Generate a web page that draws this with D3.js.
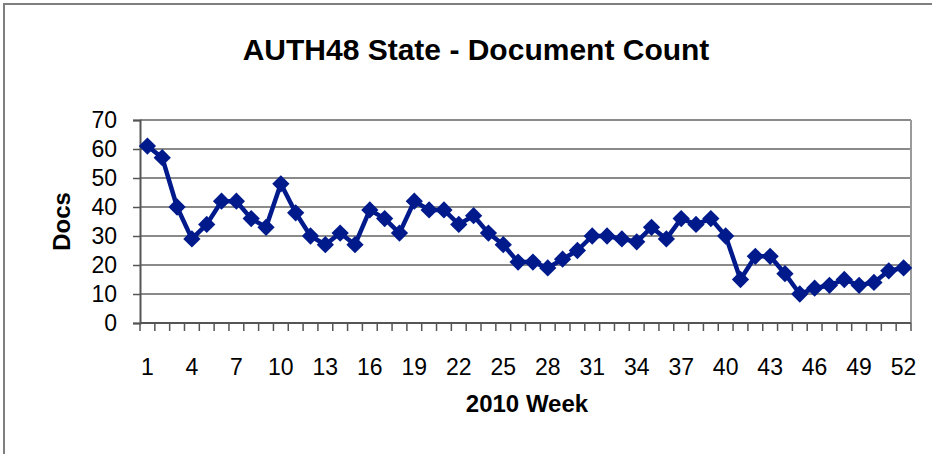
<!DOCTYPE html>
<html>
<head>
<meta charset="utf-8">
<script src="https://cdn.jsdelivr.net/npm/d3@7"></script>
<style>
  body { margin: 0; background: #fff; }
  text { font-family: "Liberation Sans", Arial, sans-serif; fill: #000; }
</style>
</head>
<body>
<svg id="chart" width="932" height="454"></svg>
<script>
// weeks of 2010 and the AUTH48 document count for each
var weeks = d3.range(1, 53);
var docs = [61, 57, 40, 29, 34, 42, 42, 36, 33, 48,
            38, 30, 27, 31, 27, 39, 36, 31, 42, 39,
            39, 34, 37, 31, 27, 21, 21, 19, 22, 25,
            30, 30, 29, 28, 33, 29, 36, 34, 36, 30,
            15, 23, 23, 17, 10, 12, 13, 15, 13, 14,
            18, 19];
var yTicks = [0, 10, 20, 30, 40, 50, 60, 70];
var xLabels = weeks.filter(function(w) { return (w - 1) % 3 === 0; });

var svg = d3.select("#chart");

// outer frame
svg.append("rect")
    .attr("x", 4).attr("y", 4)
    .attr("width", 1000).attr("height", 1000)
    .attr("fill", "#fff")
    .attr("stroke", "#7f7f7f")
    .attr("stroke-width", 2);

var margin = {top: 120, left: 140},
    width = 771,
    height = 203;

var g = svg.append("g")
    .attr("transform", "translate(" + margin.left + "," + margin.top + ")");

var x = d3.scaleBand().domain(weeks).range([0, width]);
var y = d3.scaleLinear().domain([0, 70]).range([height, 0]);

// horizontal gridlines
g.selectAll(".grid")
    .data(yTicks.slice(1))
    .enter().append("line")
    .attr("class", "grid")
    .attr("x1", 0).attr("x2", width)
    .attr("y1", function(d) { return y(d); })
    .attr("y2", function(d) { return y(d); })
    .attr("stroke", "#8a8a8a")
    .attr("stroke-width", 2);

// right border of the plot area
g.append("line")
    .attr("x1", width).attr("x2", width)
    .attr("y1", 0).attr("y2", height)
    .attr("stroke", "#9a9a9a")
    .attr("stroke-width", 2);

// y axis
var yAxis = d3.axisLeft(y).tickValues(yTicks).tickSize(7).tickPadding(16);
var gy = g.append("g").call(yAxis);
gy.select(".domain").attr("stroke", "#555").attr("stroke-width", 2);
gy.selectAll(".tick line").attr("stroke", "#555").attr("stroke-width", 1.5);
gy.selectAll(".tick text")
    .style("font-size", "23px")
    .style("font-family", "Liberation Sans, Arial, sans-serif");

// x axis: ticks on band edges, labels every 3rd week
g.append("line")
    .attr("x1", 0).attr("x2", width)
    .attr("y1", height).attr("y2", height)
    .attr("stroke", "#555").attr("stroke-width", 2);

var edges = weeks.map(function(w) { return x(w); }).concat([width]);
g.selectAll(".xtick")
    .data(edges)
    .enter().append("line")
    .attr("class", "xtick")
    .attr("x1", function(d) { return d; })
    .attr("x2", function(d) { return d; })
    .attr("y1", height).attr("y2", height + 8)
    .attr("stroke", "#555").attr("stroke-width", 1.5);

g.selectAll(".xlabel")
    .data(xLabels)
    .enter().append("text")
    .attr("class", "xlabel")
    .attr("x", function(d) { return x(d) + x.bandwidth() / 2; })
    .attr("y", height + 52)
    .attr("text-anchor", "middle")
    .style("font-size", "23px")
    .text(function(d) { return d; });

// the line
var line = d3.line()
    .x(function(d, i) { return x(weeks[i]) + x.bandwidth() / 2; })
    .y(function(d) { return y(d); });

g.append("path")
    .datum(docs)
    .attr("d", line)
    .attr("fill", "none")
    .attr("stroke", "#001a8c")
    .attr("stroke-width", 4.5)
    .attr("stroke-linejoin", "round");

// diamond markers
var diamond = d3.symbol().type(d3.symbolDiamond2).size(190);
g.selectAll(".pt")
    .data(docs)
    .enter().append("path")
    .attr("class", "pt")
    .attr("d", diamond)
    .attr("transform", function(d, i) {
        return "translate(" + (x(weeks[i]) + x.bandwidth() / 2) + "," + y(d) + ")";
    })
    .attr("fill", "#001a8c");

// title and axis titles
svg.append("text")
    .attr("x", 476).attr("y", 60)
    .attr("text-anchor", "middle")
    .style("font-size", "30px")
    .style("font-weight", "bold")
    .text("AUTH48 State - Document Count");

svg.append("text")
    .attr("x", 527).attr("y", 412)
    .attr("text-anchor", "middle")
    .style("font-size", "24px")
    .style("font-weight", "bold")
    .text("2010 Week");

svg.append("text")
    .attr("transform", "translate(70," + (margin.top + height / 2) + ") rotate(-90)")
    .attr("text-anchor", "middle")
    .style("font-size", "24px")
    .style("font-weight", "bold")
    .text("Docs");
</script>
</body>
</html>
